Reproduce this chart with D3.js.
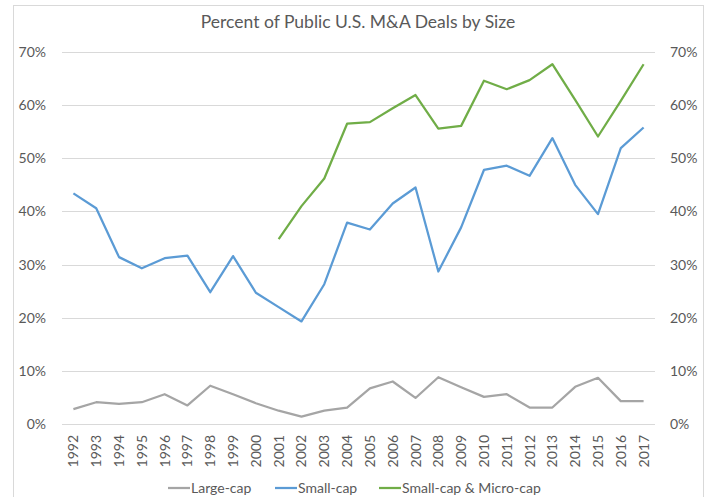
<!DOCTYPE html>
<html>
<head>
<meta charset="utf-8">
<script src="https://cdn.jsdelivr.net/npm/d3@7"></script>
<style>
  body { margin: 0; background: #fff; }
  svg { font-family: Lato, "Open Sans", sans-serif; }
</style>
</head>
<body>
<div id="chartArea"></div>
<script>
// data

const years = [
  "1992", "1993", "1994", "1995", "1996", "1997", "1998", "1999", "2000",
  "2001", "2002", "2003", "2004", "2005", "2006", "2007", "2008", "2009",
  "2010", "2011", "2012", "2013", "2014", "2015", "2016", "2017"
];

const largeCap = [
  2.8, 4.1, 3.8, 4.1, 5.6, 3.5, 7.2, 5.6, 3.9, 2.5, 1.4, 2.5, 3.1,
  6.7, 8.0, 4.9, 8.8, 6.9, 5.1, 5.6, 3.1, 3.1, 7.0, 8.7, 4.3, 4.3
];

const smallCap = [
  43.4, 40.6, 31.4, 29.3, 31.2, 31.7, 24.8, 31.6, 24.7, 22.0, 19.3, 26.3, 37.9,
  36.6, 41.5, 44.5, 28.7, 37.0, 47.8, 48.6, 46.7, 53.8, 45.0, 39.5, 51.9, 55.8
];

// no data before 2001
const smallMicroCap = [
  null, null, null, null, null, null, null, null, null,
  34.8, 41.0, 46.2, 56.5, 56.8, 59.4, 61.9, 55.6, 56.1,
  64.6, 63.0, 64.7, 67.7, 61.0, 54.1, 60.8, 67.7
];

const yTicks = [0, 10, 20, 30, 40, 50, 60, 70];

const seriesNames = ["Large-cap", "Small-cap", "Small-cap & Micro-cap"];
const seriesColors = ["#A5A5A5", "#5B9BD5", "#70AD47"];
const seriesValues = [largeCap, smallCap, smallMicroCap];

// chart

const chart = {};
chart.width = 710;
chart.height = 497;
chart.margin = { top: 52, right: 55, bottom: 73, left: 62 };
chart.innerWidth = chart.width - chart.margin.left - chart.margin.right;
chart.innerHeight = chart.height - chart.margin.top - chart.margin.bottom;

chart.svg = d3
  .select("#chartArea")
  .append("svg")
  .attr("width", chart.width)
  .attr("height", chart.height);

// outer frame
chart.svg
  .append("rect")
  .attr("x", 13.5)
  .attr("y", 5.5)
  .attr("width", 690)
  .attr("height", 500)
  .attr("fill", "none")
  .attr("stroke", "#D9D9D9");

chart.svg
  .append("text")
  .attr("x", 358)
  .attr("y", 28)
  .attr("text-anchor", "middle")
  .attr("fill", "#595959")
  .style("font-size", "17.5px")
  .text("Percent of Public U.S. M&A Deals by Size");

const g = chart.svg
  .append("g")
  .attr("transform", "translate(" + chart.margin.left + "," + chart.margin.top + ")");

const x = d3.scaleBand(years, [0, chart.innerWidth]);
const y = d3.scaleLinear([0, 70], [chart.innerHeight, 0]);

// gridlines
g.append("g")
  .selectAll("line")
  .data(yTicks)
  .join("line")
  .attr("x1", 0)
  .attr("x2", chart.innerWidth)
  .attr("y1", (d) => Math.round(y(d)) + 0.5)
  .attr("y2", (d) => Math.round(y(d)) + 0.5)
  .attr("stroke", "#D9D9D9")
  .attr("stroke-width", 1);

// left axis
const leftAxis = g
  .append("g")
  .attr("transform", "translate(-13,0)")
  .call(d3.axisLeft(y).tickValues(yTicks).tickSize(0).tickFormat((d) => d + "%"));
leftAxis.select(".domain").remove();

// right axis
const rightAxis = g
  .append("g")
  .attr("transform", "translate(" + (chart.innerWidth + 12) + ",0)")
  .call(d3.axisRight(y).tickValues(yTicks).tickSize(0).tickFormat((d) => d + "%"));
rightAxis.select(".domain").remove();

g.selectAll(".tick text")
  .attr("fill", "#595959")
  .style("font-size", "14px")
  .style("font-family", "Lato, 'Open Sans', sans-serif");

// year labels
g.append("g")
  .selectAll("text")
  .data(years)
  .join("text")
  .attr(
    "transform",
    (d) =>
      "translate(" + (x(d) + x.bandwidth() / 2 + 5) + "," + (chart.innerHeight + 11) + ") rotate(-90)"
  )
  .attr("text-anchor", "end")
  .attr("fill", "#595959")
  .style("font-size", "14px")
  .text((d) => d);

// lines
const line = d3
  .line()
  .defined((d) => d !== null)
  .x((d, i) => x(years[i]) + x.bandwidth() / 2)
  .y((d) => y(d));

g.append("g")
  .selectAll("path")
  .data(seriesValues)
  .join("path")
  .attr("d", (d) => line(d))
  .attr("fill", "none")
  .attr("stroke", (d, i) => seriesColors[i])
  .attr("stroke-width", 2.25)
  .attr("stroke-linejoin", "round");

// legend
const legendX = [168, 275, 379];
const legend = chart.svg
  .append("g")
  .selectAll("g")
  .data(seriesNames)
  .join("g")
  .attr("transform", (d, i) => "translate(" + legendX[i] + ",488)");

legend
  .append("line")
  .attr("x1", 0)
  .attr("x2", 22)
  .attr("stroke", (d, i) => seriesColors[i])
  .attr("stroke-width", 2.25);

legend
  .append("text")
  .attr("x", 23)
  .attr("y", 5)
  .attr("fill", "#595959")
  .style("font-size", "14px")
  .text((d) => d);
</script>
</body>
</html>
